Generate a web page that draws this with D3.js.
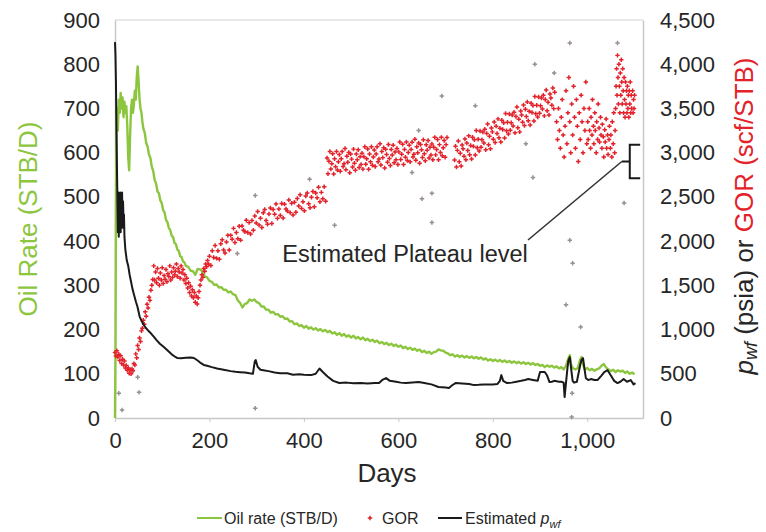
<!DOCTYPE html>
<html>
<head>
<meta charset="utf-8">
<script src="https://cdn.jsdelivr.net/npm/d3@7"></script>
<style>
  html, body { margin: 0; padding: 0; background: #fff; }
  svg { display: block; font-family: "Liberation Sans", Arial, Helvetica, sans-serif; }
</style>
</head>
<body>
<svg id="chart" width="766" height="532"></svg>
<script>
// Well performance: oil rate, GOR and estimated flowing bottomhole pressure vs. time

// Oil rate, STB/D  [day, rate]
const oilRate = [
  [0,0],[1,150],[2,450],[3,640],[4,700],[6,650],[8,720],[10,690],[12,735],[14,700],[16,725],[18,680],
  [20,715],[22,690],[24,705],[26,660],[28,590],[30,560],[32,640],[34,700],[36,720],[38,690],[40,710],
  [42,740],[44,720],[46,770],[48,795],[50,760],[52,720],[54,700],[56,690],[58,670],
  [60,655],[63,645],[66,622],[69,614],[72,596],[75,588],[78,568],[81,558],[84,538],[87,530],[90,512],
  [93,508],[96,492],[99,486],[102,470],[105,465],[108,448],[111,443],[114,430],[117,425],[120,412],
  [123,409],[126,396],[129,393],[132,381],[135,378],[138,366],[141,364],[144,354],[147,352],[150,344],
  [155,342],[160,333],[165,332],[170,324],[175,337],[180,336],[185,332],[190,320],[195,318],[200,310],
  [205,308],[210,301],[215,302],[220,295],[225,296],[230,290],[235,290],[240,284],[245,286],[250,280],
  [255,278],[260,266],[265,260],[270,250],[275,258],[280,260],[285,268],[290,265],[295,268],[300,262],
  [305,260],[310,252],[315,252],[320,245],[325,245],[330,238],[335,240],[340,234],[345,235],[350,229],
  [355,230],[360,224],[365,225],[370,218],[375,219],[380,212],[385,214],[390,208],[395,210],[400,204],
  [405,208],[410,202],[415,205],[420,200],[425,203],[430,198],[435,201],[440,196],[445,199],[450,194],
  [455,197],[460,191],[465,194],[470,188],[475,192],[480,186],[485,190],[490,184],[495,187],[500,182],
  [505,186],[510,180],[515,183],[520,178],[525,182],[530,176],[535,179],[540,174],[545,177],[550,172],
  [555,175],[560,169],[565,172],[570,167],[575,170],[580,165],[585,168],[590,163],[595,166],[600,161],
  [605,164],[610,158],[615,161],[620,156],[625,159],[630,154],[635,157],[640,152],[645,155],[650,149],
  [655,152],[660,147],[665,150],[670,145],[675,149],[680,150],[685,155],[690,153],[695,152],[700,148],
  [705,146],[710,142],[715,144],[720,139],[725,142],[730,138],[735,141],[740,137],[745,140],[750,136],
  [755,139],[760,135],[765,138],[770,134],[775,137],[780,132],[785,135],[790,130],[795,133],[800,129],
  [805,132],[810,128],[815,131],[820,127],[825,130],[830,126],[835,129],[840,125],[845,128],[850,124],
  [855,127],[860,123],[865,126],[870,122],[875,125],[880,121],[885,124],[890,120],[895,122],[900,118],
  [905,120],[910,115],[915,119],[920,116],[925,118],[930,114],[935,117],[940,112],[945,115],[950,110],
  [955,118],[960,135],[963,142],[966,120],[970,112],[975,110],[980,113],[985,132],[988,138],[991,120],
  [995,109],[1000,113],[1005,108],[1010,111],[1015,107],[1020,110],[1025,112],[1030,118],[1035,122],
  [1040,114],[1045,110],[1050,106],[1055,109],[1060,104],[1065,108],[1070,105],[1075,107],[1080,102],
  [1085,105],[1090,100],[1095,103],[1100,99]
];

// Estimated flowing bottomhole pressure, psia  [day, pwf]
const pwf = [
  [0,4250],[1,4100],[2,3800],[3,3300],[4,2900],[5,2500],[6,2100],[7,2550],[8,2050],[9,2500],[10,2150],
  [11,2550],[12,2100],[13,2500],[14,2200],[15,2550],[16,2150],[17,2450],[18,2250],[19,2300],[20,2050],
  [22,1900],[25,1780],[28,1720],[31,1620],[34,1540],[37,1460],[40,1400],[44,1320],[48,1250],[52,1150],
  [56,1100],[60,1060],[65,1020],[70,990],[76,958],[82,920],[88,880],[95,840],[104,800],[112,760],
  [120,720],[128,690],[132,678],[140,675],[150,680],[160,685],[167,678],[175,650],[182,620],[188,600],
  [195,590],[205,575],[216,560],[230,545],[245,530],[255,522],[265,518],[275,515],[285,505],[292,500],
  [296,640],[298,655],[302,580],[308,545],[314,540],[325,530],[338,515],[350,507],[365,505],[377,490],
  [390,495],[400,490],[415,485],[425,500],[433,560],[440,520],[450,470],[462,420],[475,395],[490,400],
  [505,392],[520,395],[535,390],[550,395],[559,395],[566,430],[574,451],[582,420],[595,410],[605,400],
  [616,395],[630,400],[643,406],[655,395],[670,380],[685,350],[700,345],[707,338],[714,370],[721,395],
  [735,390],[750,385],[760,372],[770,375],[780,380],[790,378],[800,380],[810,385],[815,420],[818,485],
  [822,420],[830,395],[840,400],[850,410],[860,420],[868,429],[875,440],[885,430],[895,420],[900,520],
  [903,519],[910,520],[915,480],[920,406],[925,410],[930,420],[935,415],[940,410],[945,410],[950,400],
  [952,237],[955,400],[958,560],[960,650],[963,688],[966,550],[969,420],[972,400],[978,410],[985,600],
  [988,660],[991,677],[994,560],[997,450],[1002,430],[1008,440],[1015,429],[1022,430],[1030,480],
  [1036,520],[1043,541],[1050,480],[1057,420],[1064,395],[1070,410],[1077,440],[1084,410],[1092,429],
  [1098,380],[1102,395]
];

// Producing gas-oil ratio, scf/STB  [day, GOR]
const gor = [
  [0,740],[2,700],[4,760],[6,690],[8,720],[10,650],[12,705],[14,615],[16,665],[18,600],[20,645],[22,565],
  [24,595],[26,540],[28,565],[30,505],[32,545],[34,500],[36,555],[38,535],[40,615],[42,600],[44,725],
  [46,680],[48,820],[50,775],[52,905],[54,865],[56,985],[58,1015],[60,1105],[62,1060],[64,1200],[66,1150],
  [68,1285],[70,1245],[72,1365],[74,1330],[76,1445],[78,1500],[80,1565],
  [82,1720],[84,1560],[86,1650],[88,1530],[90,1690],[92,1580],[94,1500],[96,1640],[98,1560],[100,1700],
  [102,1520],[104,1610],[106,1570],[108,1680],[110,1540],[112,1630],[114,1600],[116,1720],[118,1560],
  [120,1650],[122,1590],[124,1700],[126,1620],[128,1660],[130,1740],[132,1600],[134,1690],[136,1650],
  [138,1580],[140,1720],[142,1640],[144,1680],[146,1560],[148,1620],[150,1520],[152,1580],[154,1470],
  [156,1530],[158,1420],[160,1490],[162,1380],[164,1450],[166,1360],[168,1420],[170,1310],[172,1380],
  [174,1290],[176,1360],[178,1430],[180,1500],[182,1560],[184,1620],[186,1590],[188,1690],[190,1660],
  [192,1740],[194,1710],[196,1780],[198,1740],
  [200,1830],[203,1725],[206,1890],[209,1815],[212,1950],[215,1805],[218,1890],[221,1795],[224,1970],
  [227,2015],[230,1900],[233,1865],[236,1990],[239,2065],[242,1900],[245,2065],[248,2020],[251,2144],
  [254,1985],[257,2097],[260,2028],[263,2169],[266,2011],[269,2172],[272,2124],[275,2105],[278,2236],
  [281,2098],[284,2209],[287,2081],[290,2232],[293,2123],[296,2285],[299,2206],[302,2334],[305,2181],
  [308,2258],[311,2154],[314,2321],[317,2357],[320,2234],[323,2191],[326,2307],[329,2374],[332,2200],
  [335,2357],[338,2304],[341,2420],[344,2257],[347,2363],[350,2290],[353,2426],[356,2262],[359,2418],
  [362,2364],[365,2340],[368,2466],[371,2322],[374,2428],[377,2294],[380,2440],[383,2326],[386,2482],
  [389,2398],[392,2524],[395,2370],[398,2446],[401,2342],[404,2509],[407,2545],[410,2422],[413,2378],
  [416,2495],[419,2562],[422,2388],[425,2545],[428,2491],[431,2608],[434,2444],[437,2551],[440,2478],
  [443,2614],[446,2450],
  [449,2939],[451,2761],[453,2902],[455,3014],[457,2815],[459,2876],[461,2988],[463,2759],[465,2931],
  [467,2842],[469,3014],[471,2805],[473,2897],[475,2978],[477,2789],[479,2931],[481,3012],[483,2844],
  [485,2875],[487,3047],[489,2808],[491,2960],[493,2891],[495,3002],[497,2774],[499,2985],[501,2927],
  [503,2838],[505,3040],[507,2881],[509,2802],[511,2984],[513,2920],[515,3032],[517,2833],[519,2955],
  [521,2866],[523,2993],[525,2814],[527,2955],[529,3067],[531,2868],[533,2930],[535,3041],[537,2813],
  [539,2984],[541,2896],[543,3067],[545,2858],[547,2950],[549,3031],[551,2843],[553,2984],[555,3066],
  [557,2897],[559,2929],[561,3100],[563,2861],[565,3013],[567,2944],[569,3056],[571,2827],[573,3039],
  [575,2980],[577,2891],[579,3093],[581,2934],[583,2856],[585,3037],[587,2974],[589,3085],[591,2887],
  [593,3008],[595,2919],[597,3046],[599,2867],[601,3009],[603,3120],[605,2922],[607,2983],[609,3094],
  [611,2866],[613,3037],[615,2949],[617,3120],[619,2912],[621,3003],[623,3085],[625,2896],[627,3037],
  [629,3119],[631,2950],[633,2982],[635,3153],[637,2915],[639,3066],[641,2998],[643,3109],[645,2880],
  [647,3092],[649,3033],[651,2945],[653,3146],[655,2988],[657,2909],[659,3090],[661,3027],[663,3138],
  [665,2940],[667,3061],[669,2973],[671,3099],[673,2921],[675,3062],[677,3173],[679,2975],[681,3036],
  [683,3148],[685,2919],[687,3091],[689,3002],[691,3173],[693,2965],[695,3056],[697,3138],[699,2949],
  [701,3091],[703,3172],
  [719,2917],[721,3073],[723,2839],[725,3026],[727,3132],[729,2898],[731,2994],[733,2850],[735,3087],
  [737,3043],[739,2959],[741,3155],[743,2921],[745,3108],[747,3024],[749,3190],[751,2976],[753,3082],
  [755,2929],[757,3175],[759,3071],[761,3147],[763,2973],[765,3250],[767,3056],[769,3152],[771,3018],
  [773,3244],[775,3061],[777,3147],[779,3233],[781,3109],[783,3265],[785,3032],[787,3218],[789,3324],
  [791,3090],[793,3186],[795,3043],[797,3279],[799,3235],[801,3151],[803,3347],[805,3114],[807,3300],
  [809,3216],[811,3382],[813,3168],[815,3275],[817,3121],[819,3367],[821,3263],[823,3339],[825,3166],
  [827,3442],[829,3248],[831,3344],[833,3210],[835,3437],[837,3253],[839,3339],[841,3425],[843,3301],
  [845,3458],[847,3224],[849,3410],[851,3516],[853,3282],[855,3379],[857,3235],[859,3471],[861,3427],
  [863,3343],[865,3540],[867,3306],[869,3492],[871,3408],[873,3574],[875,3361],[877,3467],[879,3313],
  [881,3559],[883,3455],[885,3532],[887,3358],[889,3634],[891,3440],[893,3536],[895,3403],[897,3629],
  [899,3445],[901,3531],[903,3617],[905,3494],[907,3650],[909,3416],[911,3602],[913,3708],[915,3475],
  [917,3571],[919,3427],[921,3663],[923,3619],[925,3536],[927,3732],[929,3498],[931,3684],
  [935,3350],[937,3150],[939,3500],[941,3250],[943,3050],[945,3400],[947,3600],[949,3200],[951,2950],
  [953,3300],[955,3700],[957,3100],[959,3450],[961,3850],[963,3350],[965,3000],[967,3550],[969,3200],
  [971,3750],[973,3400],[975,3050],[977,3600],[979,3300],[981,2900],[983,3450],[985,3150],[987,3650],
  [989,3350],[991,3000],[993,3500],[995,3250],[997,3800],[999,3100],
  [1001,3350],[1002,3150],[1004,3500],[1005,3250],[1007,3050],[1008,3400],[1010,3200],[1011,3600],
  [1013,3300],[1014,3100],[1016,3450],[1017,3250],[1019,3000],[1020,3350],[1022,3150],[1023,3550],
  [1025,3280],[1026,3120],[1028,3400],[1029,3200],[1031,3050],[1032,3320],[1034,3180],[1035,2950],
  [1037,3260],[1038,3120],[1040,3380],[1041,3050],[1043,3200],[1044,2980],[1046,3150],[1047,3300],
  [1049,3050],[1050,3200],[1052,2950],[1053,3350],[1055,3100],[1056,3450],[1058,3000],[1059,3250],
  [1060,3500],[1061,3750],[1062,3950],[1063,3650],[1064,4100],[1065,3850],[1066,3550],[1067,4000],
  [1068,3750],[1069,3450],[1070,3900],[1071,3650],[1072,4050],[1073,3800],[1074,3550],[1075,3950],
  [1076,3700],[1077,3450],[1078,3850],[1079,3600],[1080,3400],[1081,3800],[1082,3550],[1083,3700],
  [1084,3450],[1085,3750],[1086,3500],[1087,3650],[1088,3400],[1089,3700],[1090,3550],[1091,3800],
  [1092,3450],[1093,3650],[1094,3500],[1096,3700],[1097,3450],[1098,3600],[1099,3500],[1100,3650]
];

// Isolated GOR readings away from the main trend  [day, GOR]
const gorStray = [
  [8,280],[15,90],[48,460],[51,290],[297,110],[297,2515],[259,1860],[412,2700],[465,2180],[629,2775],
  [643,3250],[650,2480],[671,2540],[671,2210],[692,3640],[763,3530],[885,2720],[889,4000],[963,4240],
  [1064,4240],[1078,2430],[963,2010],[969,1750],[955,1280],[986,1030],[968,280],[967,10],[930,3900],
  [870,3100]
];

const dayTicks = [0, 200, 400, 600, 800, 1000];
const rateTicks = [0, 100, 200, 300, 400, 500, 600, 700, 800, 900];
const pressureGorTicks = [0, 500, 1000, 1500, 2000, 2500, 3000, 3500, 4000, 4500];

// Plateau bracket range on the right-hand scale
const plateauDay = 1090;
const plateauRange = [2710, 3090];

const GREEN = "#8cc63f", RED = "#e3222b", BLACK = "#1a1a1a", AXIS = "#c8c8c8", TEXT = "#262626";

const svg = d3.select("#chart");
const L = 115, R = 643, T = 20, B = 418;

const x = d3.scaleLinear().domain([0, 1118]).range([L, R]);
const yRate = d3.scaleLinear().domain([0, 900]).range([B, T]);
const yRight = d3.scaleLinear().domain([0, 4500]).range([B, T]);

// frame
svg.append("line").attr("x1", L).attr("x2", R).attr("y1", T).attr("y2", T)
  .attr("stroke", "#e2e2e2").attr("stroke-width", 1.5);

const fmt = d3.format(",");

function styleAxis(g) {
  g.selectAll(".domain").attr("stroke", AXIS).attr("stroke-width", 1.5);
  g.selectAll(".tick line").attr("stroke", AXIS);
  g.selectAll(".tick text").attr("fill", TEXT).attr("font-size", 22)
    .attr("font-family", "'Liberation Sans', Arial, sans-serif");
}

svg.append("g").attr("transform", `translate(0,${B})`)
  .call(d3.axisBottom(x).tickValues(dayTicks).tickFormat(fmt).tickSize(4).tickPadding(10).tickSizeOuter(0))
  .call(styleAxis);

svg.append("g").attr("transform", `translate(${L},0)`)
  .call(d3.axisLeft(yRate).tickValues(rateTicks).tickFormat(fmt).tickSize(0).tickPadding(15).tickSizeOuter(0))
  .call(styleAxis);

svg.append("g").attr("transform", `translate(${R},0)`)
  .call(d3.axisRight(yRight).tickValues(pressureGorTicks).tickFormat(fmt).tickSize(0).tickPadding(17).tickSizeOuter(0))
  .call(styleAxis);

// oil rate
svg.append("path").datum(oilRate)
  .attr("fill", "none").attr("stroke", GREEN).attr("stroke-width", 2.4).attr("stroke-linejoin", "round")
  .attr("d", d3.line().x(d => x(d[0])).y(d => yRate(d[1])));

// GOR markers
const cross = d3.symbol().type(d3.symbolCross).size(11);
svg.append("g").selectAll("path.gor").data(gor).join("path")
  .attr("class", "gor")
  .attr("transform", d => `translate(${x(d[0])},${yRight(d[1])})`)
  .attr("d", cross).attr("fill", RED);
svg.append("g").selectAll("path.stray").data(gorStray).join("path")
  .attr("class", "stray")
  .attr("transform", d => `translate(${x(d[0])},${yRight(d[1])})`)
  .attr("d", cross).attr("fill", "#9a8f90");

// estimated pwf
svg.append("path").datum(pwf)
  .attr("fill", "none").attr("stroke", BLACK).attr("stroke-width", 2).attr("stroke-linejoin", "round")
  .attr("d", d3.line().x(d => x(d[0])).y(d => yRight(d[1])));

// plateau annotation
const bx = x(plateauDay), yTop = yRight(plateauRange[1]), yBot = yRight(plateauRange[0]);
const yMid = (yTop + yBot) / 2, serif = x(plateauDay + 22);
svg.append("path")
  .attr("d", `M${serif},${yTop}H${bx}V${yBot}H${serif}M${bx},${yMid}H${bx - 8}`)
  .attr("fill", "none").attr("stroke", BLACK).attr("stroke-width", 2);
svg.append("line").attr("x1", 528).attr("y1", 240).attr("x2", bx - 8).attr("y2", yMid)
  .attr("stroke", "#333").attr("stroke-width", 1.6);
svg.append("text").attr("x", 405).attr("y", 262).attr("text-anchor", "middle")
  .attr("font-size", 23.5).attr("fill", TEXT).text("Estimated Plateau level");

// axis titles
svg.append("text").attr("x", 387).attr("y", 482).attr("text-anchor", "middle")
  .attr("font-size", 26).attr("fill", TEXT).text("Days");

svg.append("text").attr("transform", `translate(37,${(T + B) / 2}) rotate(-90)`)
  .attr("text-anchor", "middle").attr("font-size", 26).attr("fill", GREEN).text("Oil Rate (STB/D)");

const rt = svg.append("text").attr("transform", `translate(753,216) rotate(-90)`)
  .attr("text-anchor", "middle").attr("font-size", 26).attr("fill", TEXT);
rt.append("tspan").attr("font-style", "italic").text("p");
rt.append("tspan").attr("font-style", "italic").attr("font-size", 18).attr("dy", 4).text("wf");
rt.append("tspan").attr("dy", -4).text(" (psia) or ");
rt.append("tspan").attr("fill", RED).text("GOR (scf/STB)");

// legend
const ly = 518;
const lg = svg.append("g").attr("font-size", 16).attr("fill", TEXT);
lg.append("line").attr("x1", 197).attr("x2", 222).attr("y1", ly).attr("y2", ly)
  .attr("stroke", GREEN).attr("stroke-width", 2);
lg.append("text").attr("x", 224).attr("y", ly + 6).text("Oil rate (STB/D)");
lg.append("path").attr("transform", `translate(370,${ly})`).attr("d", cross).attr("fill", RED);
lg.append("text").attr("x", 382).attr("y", ly + 6).text("GOR");
lg.append("line").attr("x1", 438).attr("x2", 462).attr("y1", ly).attr("y2", ly)
  .attr("stroke", BLACK).attr("stroke-width", 2);
const le = lg.append("text").attr("x", 465).attr("y", ly + 6);
le.append("tspan").text("Estimated ");
le.append("tspan").attr("font-style", "italic").text("p");
le.append("tspan").attr("font-style", "italic").attr("font-size", 11).attr("dy", 4).text("wf");
</script>
</body>
</html>
